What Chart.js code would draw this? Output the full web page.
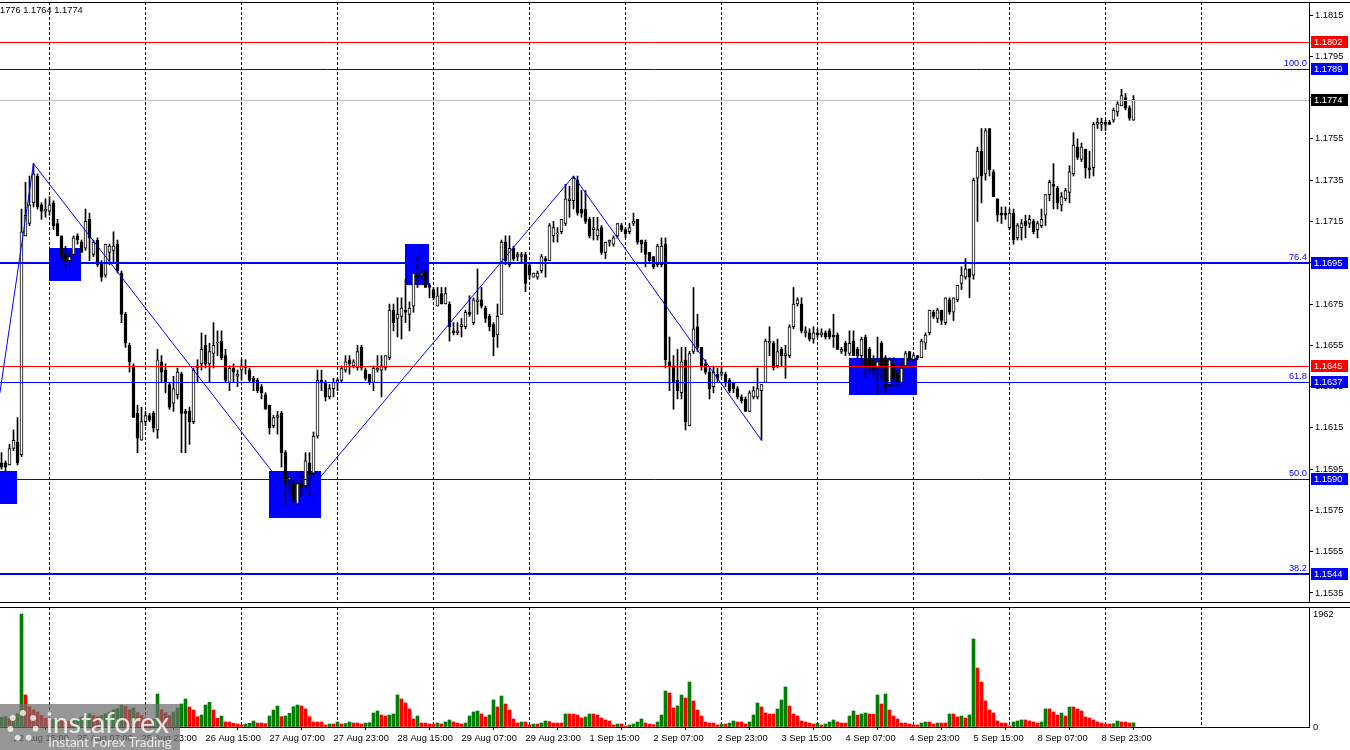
<!DOCTYPE html>
<html lang="en">
<head>
<meta charset="UTF-8">
<title>EURUSD H1</title>
<script src="https://cdn.jsdelivr.net/npm/chart.js"></script>
<style>
    body { margin: 0; width: 1350px; height: 750px; overflow: hidden; position: relative; background: #fff; font-family: "Liberation Sans", Arial, sans-serif; }
    #priceChart { position: absolute; left: 0; top: 0; }
    #volChart { position: absolute; left: 0; top: 604px; }
    .quote { position: absolute; left: 0; top: 5px; font-size: 9.3px; color: #000; white-space: nowrap; }
    .logo { position: absolute; left: 0; top: 704px; width: 180px; height: 46px; background: rgba(110,110,110,0.72); overflow: hidden; }
    .logo .mark { position: absolute; left: 7px; top: 6px; width: 32px; height: 32px; border-radius: 50%; border: 6px dotted rgba(255,255,255,0.75); box-sizing: border-box; }
    .logo .name { position: absolute; left: 46px; top: 0; font: 29px Lato, sans-serif; color: rgba(255,255,255,0.82); letter-spacing: -0.3px; }
    .logo .tag { position: absolute; left: 48px; top: 30px; font: 13.5px Lato, sans-serif; color: rgba(255,255,255,0.82); }
</style>
</head>
<body>
<canvas id="priceChart" width="1350" height="604"></canvas>
<canvas id="volChart" width="1350" height="146"></canvas>
<div class="quote">1776 1.1764 1.1774</div>
<div class="logo"><div class="mark"></div><div class="name">instaforex</div><div class="tag">Instant Forex Trading</div></div>

<script>
// EURUSD H1, 22 Aug 12:00 .. 9 Sep 07:00 (bar index 0..283)
const opens = [
    1.1598,1.1598,1.1597,1.1605,1.1608,1.1602,1.1708,1.1714,1.1724,1.1737,
    1.1723,1.1720,1.1720,1.1724,1.1714,1.1708,1.1699,1.1696,1.1699,1.1708,
    1.1705,1.1702,1.1716,1.1699,1.1706,1.1695,1.1689,1.1700,1.1701,1.1704,
    1.1690,1.1670,1.1655,1.1645,1.1622,1.1609,1.1618,1.1621,1.1622,1.1614,
    1.1647,1.1643,1.1636,1.1627,1.1631,1.1641,1.1623,1.1623,1.1618,1.1644,
    1.1646,1.1655,1.1646,1.1651,1.1656,1.1657,1.1650,1.1637,1.1644,1.1640,
    1.1643,1.1644,1.1643,1.1639,1.1638,1.1635,1.1631,1.1626,1.1616,1.1620,
    1.1622,1.1603,1.1590,1.1588,1.1578,1.1588,1.1587,1.1598,1.1593,1.1611,
    1.1638,1.1637,1.1630,1.1634,1.1637,1.1638,1.1643,1.1648,1.1645,1.1644,
    1.1654,1.1643,1.1641,1.1637,1.1643,1.1643,1.1644,1.1649,1.1672,1.1668,
    1.1669,1.1672,1.1670,1.1674,1.1689,1.1689,1.1691,1.1684,1.1682,1.1674,
    1.1680,1.1675,1.1675,1.1662,1.1661,1.1664,1.1664,1.1671,1.1666,1.1676,
    1.1677,1.1673,1.1669,1.1665,1.1660,1.1670,1.1705,1.1694,1.1702,1.1698,
    1.1698,1.1699,1.1694,1.1688,1.1688,1.1691,1.1697,1.1696,1.1708,1.1709,
    1.1710,1.1714,1.1725,1.1725,1.1735,1.1721,1.1721,1.1716,1.1711,1.1708,
    1.1712,1.1700,1.1705,1.1704,1.1708,1.1713,1.1711,1.1710,1.1714,1.1716,
    1.1706,1.1705,1.1700,1.1698,1.1694,1.1694,1.1704,1.1647,1.1645,1.1638,
    1.1632,1.1648,1.1616,1.1652,1.1664,1.1654,1.1646,1.1642,1.1635,1.1641,
    1.1641,1.1641,1.1638,1.1637,1.1634,1.1630,1.1629,1.1623,1.1630,1.1630,
    1.1633,1.1637,1.1656,1.1656,1.1645,1.1653,1.1650,1.1650,1.1664,1.1675,
    1.1675,1.1661,1.1661,1.1658,1.1661,1.1660,1.1661,1.1662,1.1660,1.1660,
    1.1652,1.1656,1.1651,1.1657,1.1653,1.1650,1.1659,1.1653,1.1648,1.1644,
    1.1656,1.1649,1.1636,1.1646,1.1641,1.1637,1.1645,1.1652,1.1648,1.1650,
    1.1649,1.1656,1.1661,1.1671,1.1668,1.1672,1.1666,1.1677,1.1671,1.1677,
    1.1685,1.1688,1.1692,1.1689,1.1736,1.1749,1.1738,1.1760,1.1739,1.1726,
    1.1719,1.1719,1.1712,1.1719,1.1707,1.1712,1.1715,1.1714,1.1715,1.1711,
    1.1713,1.1718,1.1728,1.1733,1.1731,1.1723,1.1726,1.1729,1.1738,1.1751,
    1.1745,1.1750,1.1741,1.1741,1.1762,1.1762,1.1763,1.1763,1.1764,1.1768,
    1.1771,1.1775,1.1770,1.1764
];
const highs = [
    1.1603,1.1599,1.1607,1.1614,1.1620,1.1721,1.1734,1.1737,1.1743,1.1738,
    1.1724,1.1726,1.1727,1.1725,1.1716,1.1708,1.1703,1.1700,1.1708,1.1709,
    1.1706,1.1721,1.1719,1.1706,1.1707,1.1696,1.1704,1.1704,1.1710,1.1706,
    1.1691,1.1671,1.1656,1.1646,1.1626,1.1625,1.1623,1.1622,1.1623,1.1653,
    1.1650,1.1646,1.1637,1.1640,1.1644,1.1642,1.1624,1.1625,1.1644,1.1648,
    1.1661,1.1660,1.1656,1.1666,1.1662,1.1662,1.1653,1.1645,1.1646,1.1643,
    1.1648,1.1648,1.1644,1.1640,1.1639,1.1636,1.1632,1.1626,1.1621,1.1623,
    1.1623,1.1604,1.1591,1.1590,1.1590,1.1594,1.1603,1.1603,1.1613,1.1643,
    1.1643,1.1638,1.1636,1.1639,1.1639,1.1645,1.1650,1.1650,1.1648,1.1655,
    1.1655,1.1644,1.1641,1.1645,1.1650,1.1650,1.1650,1.1675,1.1675,1.1678,
    1.1678,1.1687,1.1676,1.1690,1.1698,1.1691,1.1692,1.1685,1.1683,1.1683,
    1.1683,1.1683,1.1676,1.1666,1.1666,1.1668,1.1672,1.1679,1.1678,1.1692,
    1.1683,1.1674,1.1670,1.1666,1.1675,1.1706,1.1708,1.1708,1.1703,1.1700,
    1.1700,1.1700,1.1695,1.1690,1.1691,1.1699,1.1698,1.1714,1.1715,1.1712,
    1.1716,1.1733,1.1732,1.1737,1.1737,1.1730,1.1730,1.1717,1.1717,1.1717,
    1.1713,1.1705,1.1706,1.1708,1.1714,1.1714,1.1712,1.1714,1.1719,1.1716,
    1.1706,1.1706,1.1700,1.1698,1.1704,1.1707,1.1707,1.1659,1.1650,1.1653,
    1.1654,1.1654,1.1652,1.1683,1.1670,1.1654,1.1648,1.1644,1.1645,1.1644,
    1.1645,1.1642,1.1639,1.1637,1.1635,1.1631,1.1630,1.1633,1.1635,1.1644,
    1.1636,1.1658,1.1664,1.1657,1.1658,1.1654,1.1655,1.1665,1.1683,1.1678,
    1.1678,1.1664,1.1663,1.1664,1.1663,1.1663,1.1662,1.1663,1.1670,1.1661,
    1.1654,1.1657,1.1662,1.1662,1.1654,1.1659,1.1660,1.1654,1.1650,1.1659,
    1.1657,1.1650,1.1649,1.1649,1.1643,1.1648,1.1652,1.1652,1.1651,1.1650,
    1.1658,1.1661,1.1672,1.1672,1.1673,1.1672,1.1678,1.1678,1.1678,1.1684,
    1.1693,1.1697,1.1692,1.1736,1.1751,1.1760,1.1760,1.1760,1.1740,1.1726,
    1.1722,1.1722,1.1721,1.1721,1.1714,1.1716,1.1718,1.1718,1.1716,1.1715,
    1.1721,1.1728,1.1735,1.1743,1.1732,1.1729,1.1731,1.1742,1.1758,1.1755,
    1.1753,1.1750,1.1749,1.1763,1.1765,1.1765,1.1764,1.1764,1.1770,1.1773,
    1.1779,1.1777,1.1771,1.1776
];
const lows = [
    1.1595,1.1594,1.1597,1.1604,1.1597,1.1601,1.1708,1.1713,1.1722,1.1721,
    1.1716,1.1717,1.1718,1.1711,1.1708,1.1696,1.1693,1.1695,1.1699,1.1704,
    1.1700,1.1701,1.1696,1.1698,1.1693,1.1686,1.1688,1.1694,1.1695,1.1690,
    1.1666,1.1654,1.1642,1.1620,1.1603,1.1609,1.1616,1.1618,1.1613,1.1610,
    1.1637,1.1632,1.1624,1.1623,1.1629,1.1603,1.1603,1.1607,1.1617,1.1637,
    1.1643,1.1644,1.1637,1.1644,1.1650,1.1648,1.1637,1.1633,1.1637,1.1635,
    1.1638,1.1641,1.1637,1.1633,1.1632,1.1629,1.1624,1.1612,1.1615,1.1612,
    1.1596,1.1578,1.1582,1.1579,1.1578,1.1582,1.1586,1.1582,1.1592,1.1610,
    1.1633,1.1628,1.1629,1.1630,1.1633,1.1637,1.1642,1.1641,1.1644,1.1643,
    1.1643,1.1638,1.1636,1.1633,1.1642,1.1630,1.1643,1.1648,1.1662,1.1659,
    1.1658,1.1666,1.1662,1.1671,1.1683,1.1687,1.1683,1.1678,1.1677,1.1674,
    1.1675,1.1675,1.1657,1.1660,1.1660,1.1659,1.1663,1.1669,1.1665,1.1670,
    1.1673,1.1666,1.1662,1.1650,1.1654,1.1670,1.1694,1.1693,1.1696,1.1696,
    1.1695,1.1681,1.1687,1.1688,1.1687,1.1690,1.1688,1.1696,1.1705,1.1705,
    1.1709,1.1713,1.1717,1.1721,1.1718,1.1717,1.1714,1.1707,1.1706,1.1706,
    1.1699,1.1697,1.1703,1.1703,1.1707,1.1710,1.1707,1.1709,1.1713,1.1704,
    1.1700,1.1693,1.1695,1.1692,1.1693,1.1693,1.1644,1.1633,1.1624,1.1629,
    1.1629,1.1614,1.1616,1.1651,1.1652,1.1643,1.1641,1.1629,1.1632,1.1637,
    1.1640,1.1635,1.1632,1.1632,1.1629,1.1627,1.1623,1.1623,1.1629,1.1629,
    1.1609,1.1637,1.1650,1.1643,1.1644,1.1645,1.1639,1.1649,1.1663,1.1674,
    1.1661,1.1659,1.1657,1.1656,1.1659,1.1659,1.1658,1.1658,1.1654,1.1653,
    1.1651,1.1650,1.1650,1.1650,1.1649,1.1645,1.1640,1.1642,1.1640,1.1631,
    1.1638,1.1632,1.1635,1.1635,1.1635,1.1636,1.1645,1.1647,1.1647,1.1648,
    1.1649,1.1653,1.1660,1.1668,1.1666,1.1665,1.1665,1.1670,1.1667,1.1676,
    1.1682,1.1687,1.1678,1.1687,1.1715,1.1724,1.1735,1.1737,1.1727,1.1715,
    1.1714,1.1716,1.1711,1.1704,1.1706,1.1706,1.1707,1.1712,1.1709,1.1707,
    1.1712,1.1713,1.1725,1.1721,1.1721,1.1720,1.1725,1.1724,1.1737,1.1745,
    1.1744,1.1736,1.1736,1.1737,1.1760,1.1759,1.1759,1.1762,1.1763,1.1766,
    1.1771,1.1769,1.1764,1.1764
];
const closes = [
    1.1596,1.1596,1.1605,1.1609,1.1598,1.1710,1.1718,1.1723,1.1738,1.1722,
    1.1720,1.1721,1.1723,1.1713,1.1708,1.1698,1.1696,1.1698,1.1707,1.1706,
    1.1700,1.1715,1.1707,1.1705,1.1694,1.1688,1.1704,1.1703,1.1703,1.1691,
    1.1670,1.1656,1.1647,1.1620,1.1610,1.1618,1.1621,1.1619,1.1615,1.1648,
    1.1642,1.1637,1.1625,1.1634,1.1642,1.1622,1.1622,1.1618,1.1643,1.1645,
    1.1653,1.1646,1.1652,1.1655,1.1656,1.1649,1.1638,1.1644,1.1642,1.1641,
    1.1645,1.1645,1.1638,1.1637,1.1633,1.1632,1.1624,1.1615,1.1620,1.1621,
    1.1603,1.1588,1.1591,1.1579,1.1588,1.1586,1.1599,1.1592,1.1611,1.1638,
    1.1637,1.1630,1.1634,1.1637,1.1638,1.1644,1.1647,1.1646,1.1647,1.1652,
    1.1644,1.1639,1.1637,1.1644,1.1644,1.1645,1.1650,1.1672,1.1666,1.1670,
    1.1673,1.1671,1.1673,1.1690,1.1688,1.1690,1.1683,1.1683,1.1678,1.1679,
    1.1675,1.1680,1.1664,1.1661,1.1662,1.1665,1.1671,1.1670,1.1677,1.1677,
    1.1674,1.1668,1.1664,1.1659,1.1669,1.1705,1.1696,1.1702,1.1697,1.1699,
    1.1699,1.1685,1.1689,1.1690,1.1690,1.1698,1.1696,1.1713,1.1712,1.1709,
    1.1716,1.1726,1.1726,1.1736,1.1719,1.1719,1.1715,1.1708,1.1712,1.1711,
    1.1700,1.1705,1.1706,1.1707,1.1714,1.1711,1.1709,1.1712,1.1715,1.1705,
    1.1704,1.1699,1.1696,1.1693,1.1703,1.1703,1.1648,1.1645,1.1637,1.1633,
    1.1647,1.1618,1.1651,1.1663,1.1654,1.1645,1.1642,1.1634,1.1642,1.1639,
    1.1642,1.1637,1.1633,1.1634,1.1630,1.1628,1.1623,1.1632,1.1633,1.1634,
    1.1636,1.1657,1.1657,1.1644,1.1652,1.1650,1.1651,1.1664,1.1675,1.1677,
    1.1662,1.1662,1.1658,1.1661,1.1660,1.1661,1.1659,1.1659,1.1659,1.1653,
    1.1653,1.1652,1.1656,1.1650,1.1650,1.1658,1.1644,1.1644,1.1643,1.1647,
    1.1645,1.1635,1.1648,1.1639,1.1637,1.1644,1.1651,1.1648,1.1650,1.1649,
    1.1657,1.1660,1.1672,1.1669,1.1672,1.1667,1.1678,1.1671,1.1678,1.1684,
    1.1689,1.1692,1.1688,1.1735,1.1749,1.1737,1.1759,1.1740,1.1727,1.1718,
    1.1718,1.1718,1.1719,1.1706,1.1713,1.1714,1.1713,1.1716,1.1710,1.1714,
    1.1716,1.1728,1.1734,1.1732,1.1724,1.1727,1.1730,1.1739,1.1752,1.1746,
    1.1751,1.1741,1.1740,1.1762,1.1763,1.1763,1.1762,1.1762,1.1769,1.1772,
    1.1776,1.1770,1.1765,1.1774
];
const volumes = [
    168,180,150,170,230,1962,556,350,300,260,
    200,150,120,130,140,120,110,100,130,150,
    170,200,230,200,180,200,230,260,300,320,
    380,360,300,330,250,200,150,130,140,573,
    300,250,200,260,330,400,486,347,295,180,
    208,382,428,295,150,191,87,87,64,52,
    35,52,64,104,69,69,58,191,295,365,
    180,191,237,353,382,365,313,180,87,87,
    87,35,52,52,87,52,60,87,69,69,
    52,69,75,243,278,208,191,208,226,556,
    487,417,313,139,191,69,69,52,52,69,
    52,87,122,87,69,52,69,191,261,278,
    226,174,208,469,347,538,400,295,139,69,
    87,87,35,52,52,69,104,93,69,69,
    69,226,226,226,208,156,174,226,226,208,
    156,122,104,35,52,52,17,35,52,87,
    139,69,52,41,87,208,625,591,330,365,
    556,504,782,452,295,191,87,69,69,35,
    52,52,69,104,87,87,52,87,208,417,
    347,243,226,226,313,469,695,365,226,191,
    104,87,69,52,69,35,52,87,122,87,
    69,69,191,278,208,226,243,226,220,556,
    400,573,295,191,139,69,69,52,35,35,
    69,87,87,52,69,69,69,226,226,174,
    191,156,208,1529,1025,782,452,295,243,104,
    69,69,17,87,104,122,122,104,87,69,
    87,313,313,261,208,243,191,347,347,313,
    278,174,156,122,87,69,52,52,58,104,
    87,86,69,72
];

// axis labels
const timeTickIndex = [3,19,35,51,67,83,99,115,131,147,163,179,195,211,227,243,259,275];
const timeTickLabels = ["22 Aug 15:00","25 Aug 07:00","25 Aug 23:00","26 Aug 15:00","27 Aug 07:00","27 Aug 23:00",
    "28 Aug 15:00","29 Aug 07:00","29 Aug 23:00","1 Sep 15:00","2 Sep 07:00","2 Sep 23:00",
    "3 Sep 15:00","4 Sep 07:00","4 Sep 23:00","5 Sep 15:00","8 Sep 07:00","8 Sep 23:00"];
const daySeparators = [12,36,60,84,108,132,156,180,204,228,252,276,300];
const priceTicks = [1.1535,1.1555,1.1575,1.1595,1.1615,1.1635,1.1655,1.1675,1.1695,1.1715,1.1735,1.1755,1.1775,1.1795,1.1815];
const volumeTicks = [0, 1962];

// drawn objects
const levelPrices = [1.1802, 1.1789, 1.1774, 1.1695, 1.1645, 1.1637, 1.1590, 1.1544];
const levelFibText = ["", "100.0", "", "76.4", "", "61.8", "50.0", "38.2"];
const zoneFrom = [-0.4, 11.9, 66.9, 100.9, 211.9];
const zoneTo   = [3.8, 19.9, 79.9, 106.9, 228.9];
const zoneHigh = [1.1594, 1.1702, 1.1594, 1.1704, 1.1649];
const zoneLow  = [1.1578, 1.1686, 1.1571, 1.1684, 1.1631];
const zigzagIndex = [-0.4, 8, 74, 143, 190];
const zigzagPrice = [1.1632, 1.1743, 1.1578, 1.1737, 1.1609];

// styles
const levelColor = ["#ff0000", "#0000ff", "#c0c0c0", "#0000ff", "#ff0000", "#0000ff", "#0000ff", "#0000ff"];
const levelWidth = [1, 1, 1, 2, 1, 1, 1, 2];
const tagColor = ["#ff0000", "#0000ff", "#000000", "#0000ff", "#ff0000", "#0000ff", "#0000ff", "#0000ff"];
const FONT = 9.3;
const X_MIN = -0.375, X_MAX = 326.875;

Chart.defaults.font.family = '"Liberation Sans", Arial, sans-serif';
Chart.defaults.font.size = FONT;
Chart.defaults.color = "#000";

// fixed axis boxes, no label overhang padding
function fixY(s) { s.width = 41; s.paddingTop = 0; s.paddingBottom = 0; }
function fixX(s) { s.height = 23; s.paddingLeft = 0; s.paddingRight = 0; }

function drawSeparators(chart) {
    const { ctx, chartArea: a, scales: { x } } = chart;
    ctx.save();
    ctx.strokeStyle = "#000";
    ctx.lineWidth = 1;
    ctx.setLineDash([3, 2]);
    daySeparators.forEach(d => {
        const px = Math.floor(x.getPixelForValue(d)) + 0.5;
        ctx.beginPath();
        ctx.moveTo(px, a.top);
        ctx.lineTo(px, a.bottom);
        ctx.stroke();
    });
    ctx.restore();
}

const priceOverlay = {
    id: "priceOverlay",
    beforeDatasetsDraw(chart) {
        const { ctx, chartArea: a, scales: { x, y } } = chart;
        ctx.save();
        ctx.beginPath();
        ctx.rect(a.left, a.top, a.right - a.left, a.bottom - a.top);
        ctx.clip();
        ctx.fillStyle = "#0000ff";
        zoneFrom.forEach((f, k) => {
            const x0 = x.getPixelForValue(f), x1 = x.getPixelForValue(zoneTo[k]);
            const y0 = y.getPixelForValue(zoneHigh[k]), y1 = y.getPixelForValue(zoneLow[k]);
            ctx.fillRect(Math.round(x0), Math.round(y0), Math.round(x1 - x0), Math.round(y1 - y0));
        });
        ctx.restore();
        drawSeparators(chart);
    },
    afterDatasetsDraw(chart) {
        const { ctx, chartArea: a, scales: { x, y } } = chart;
        ctx.save();
        ctx.beginPath();
        ctx.rect(a.left, a.top, a.right - a.left, a.bottom - a.top);
        ctx.clip();
        ctx.setLineDash([]);
        // horizontal levels
        levelPrices.forEach((p, k) => {
            const w = levelWidth[k];
            let py = Math.round(y.getPixelForValue(p));
            if (w % 2) py += 0.5;
            ctx.strokeStyle = levelColor[k];
            ctx.lineWidth = w;
            ctx.beginPath();
            ctx.moveTo(a.left, py);
            ctx.lineTo(a.right, py);
            ctx.stroke();
            if (levelFibText[k]) {
                ctx.fillStyle = "#0000ff";
                ctx.font = FONT + 'px "Liberation Sans", Arial, sans-serif';
                ctx.textAlign = "right";
                ctx.textBaseline = "bottom";
                ctx.fillText(levelFibText[k], a.right - 2, py - 1);
            }
        });
        // zigzag
        ctx.strokeStyle = "#0000ff";
        ctx.lineWidth = 1;
        ctx.beginPath();
        zigzagIndex.forEach((ix, k) => {
            const px = x.getPixelForValue(ix), py = y.getPixelForValue(zigzagPrice[k]);
            if (k === 0) ctx.moveTo(px, py); else ctx.lineTo(px, py);
        });
        ctx.stroke();
        ctx.restore();
    },
    afterDraw(chart) {
        const { ctx, chartArea: a, scales: { y }, width } = chart;
        ctx.save();
        // panel borders
        ctx.strokeStyle = "#000";
        ctx.lineWidth = 1;
        ctx.beginPath();
        ctx.moveTo(0, a.top + 0.5); ctx.lineTo(width, a.top + 0.5);
        ctx.moveTo(0, a.bottom + 0.5); ctx.lineTo(width, a.bottom + 0.5);
        ctx.stroke();
        // price tags on the axis
        ctx.font = FONT + 'px "Liberation Sans", Arial, sans-serif';
        ctx.textAlign = "left";
        ctx.textBaseline = "middle";
        levelPrices.forEach((p, k) => {
            const py = Math.round(y.getPixelForValue(p));
            ctx.fillStyle = tagColor[k];
            ctx.fillRect(a.right + 2, py - 6, 37, 12);
            ctx.fillStyle = "#fff";
            ctx.fillText(p.toFixed(4), a.right + 5, py + 0.5);
        });
        ctx.restore();
    }
};

const volOverlay = {
    id: "volOverlay",
    beforeDatasetsDraw(chart) { drawSeparators(chart); },
    afterDraw(chart) {
        const { ctx, chartArea: a, width } = chart;
        ctx.save();
        ctx.strokeStyle = "#000";
        ctx.lineWidth = 1;
        ctx.beginPath();
        ctx.moveTo(0, a.top + 0.5); ctx.lineTo(width, a.top + 0.5);
        ctx.stroke();
        ctx.restore();
    }
};

const bodies = opens.map((o, i) => ({ x: i, y: [o, closes[i]] }));
const wicks = highs.map((h, i) => ({ x: i, y: [lows[i], h] }));
const bodyColors = opens.map((o, i) => closes[i] >= o ? "#ffffff" : "#000000");
const volData = volumes.map((v, i) => ({ x: i, y: v }));
const volColors = volumes.map((v, i) => (i === 0 || v > volumes[i - 1]) ? "#008000" : "#ff0000");

new Chart(document.getElementById("priceChart"), {
    type: "bar",
    data: {
        datasets: [
            { data: bodies, backgroundColor: bodyColors, borderColor: "#000", borderWidth: 1,
              borderSkipped: false, barThickness: 3, minBarLength: 1, grouped: false },
            { data: wicks, backgroundColor: "#000", borderWidth: 0, barThickness: 1, grouped: false }
        ]
    },
    options: {
        responsive: false,
        animation: false,
        devicePixelRatio: 1,
        layout: { padding: { top: 2, bottom: 2, left: 0, right: 0 }, autoPadding: false },
        plugins: { legend: { display: false }, tooltip: { enabled: false } },
        scales: {
            x: { type: "linear", min: X_MIN, max: X_MAX, offset: false, display: false },
            y: {
                type: "linear", position: "right", min: 1.153064, max: 1.18213,
                afterFit: fixY,
                afterBuildTicks(s) { s.ticks = priceTicks.map(v => ({ value: v })); },
                grid: { drawOnChartArea: false, drawTicks: true, tickLength: 4, tickColor: "#000" },
                border: { display: true, color: "#000" },
                ticks: { autoSkip: false, padding: 2, color: "#000", callback: v => v.toFixed(4) }
            }
        }
    },
    plugins: [priceOverlay]
});

new Chart(document.getElementById("volChart"), {
    type: "bar",
    data: {
        datasets: [
            { data: volData, backgroundColor: volColors, borderWidth: 0, barThickness: 3, grouped: false }
        ]
    },
    options: {
        responsive: false,
        animation: false,
        devicePixelRatio: 1,
        layout: { padding: { top: 3, bottom: 0, left: 0, right: 0 }, autoPadding: false },
        plugins: { legend: { display: false }, tooltip: { enabled: false } },
        scales: {
            x: {
                type: "linear", min: X_MIN, max: X_MAX, offset: false,
                afterFit: fixX,
                afterBuildTicks(s) { s.ticks = timeTickIndex.map(v => ({ value: v })); },
                grid: { drawOnChartArea: false, drawTicks: true, tickLength: 3, tickColor: "#000" },
                border: { display: true, color: "#000" },
                ticks: { autoSkip: false, maxRotation: 0, minRotation: 0, align: "start", padding: 3, color: "#000",
                         callback: v => timeTickLabels[timeTickIndex.indexOf(v)] }
            },
            y: {
                type: "linear", position: "right", min: 0, max: 2084,
                afterFit: fixY,
                afterBuildTicks(s) { s.ticks = volumeTicks.map(v => ({ value: v })); },
                grid: { drawOnChartArea: false, drawTicks: false },
                border: { display: true, color: "#000" },
                ticks: { autoSkip: false, padding: 4, color: "#000", callback: v => String(v) }
            }
        }
    },
    plugins: [volOverlay]
});
</script>
</body>
</html>
